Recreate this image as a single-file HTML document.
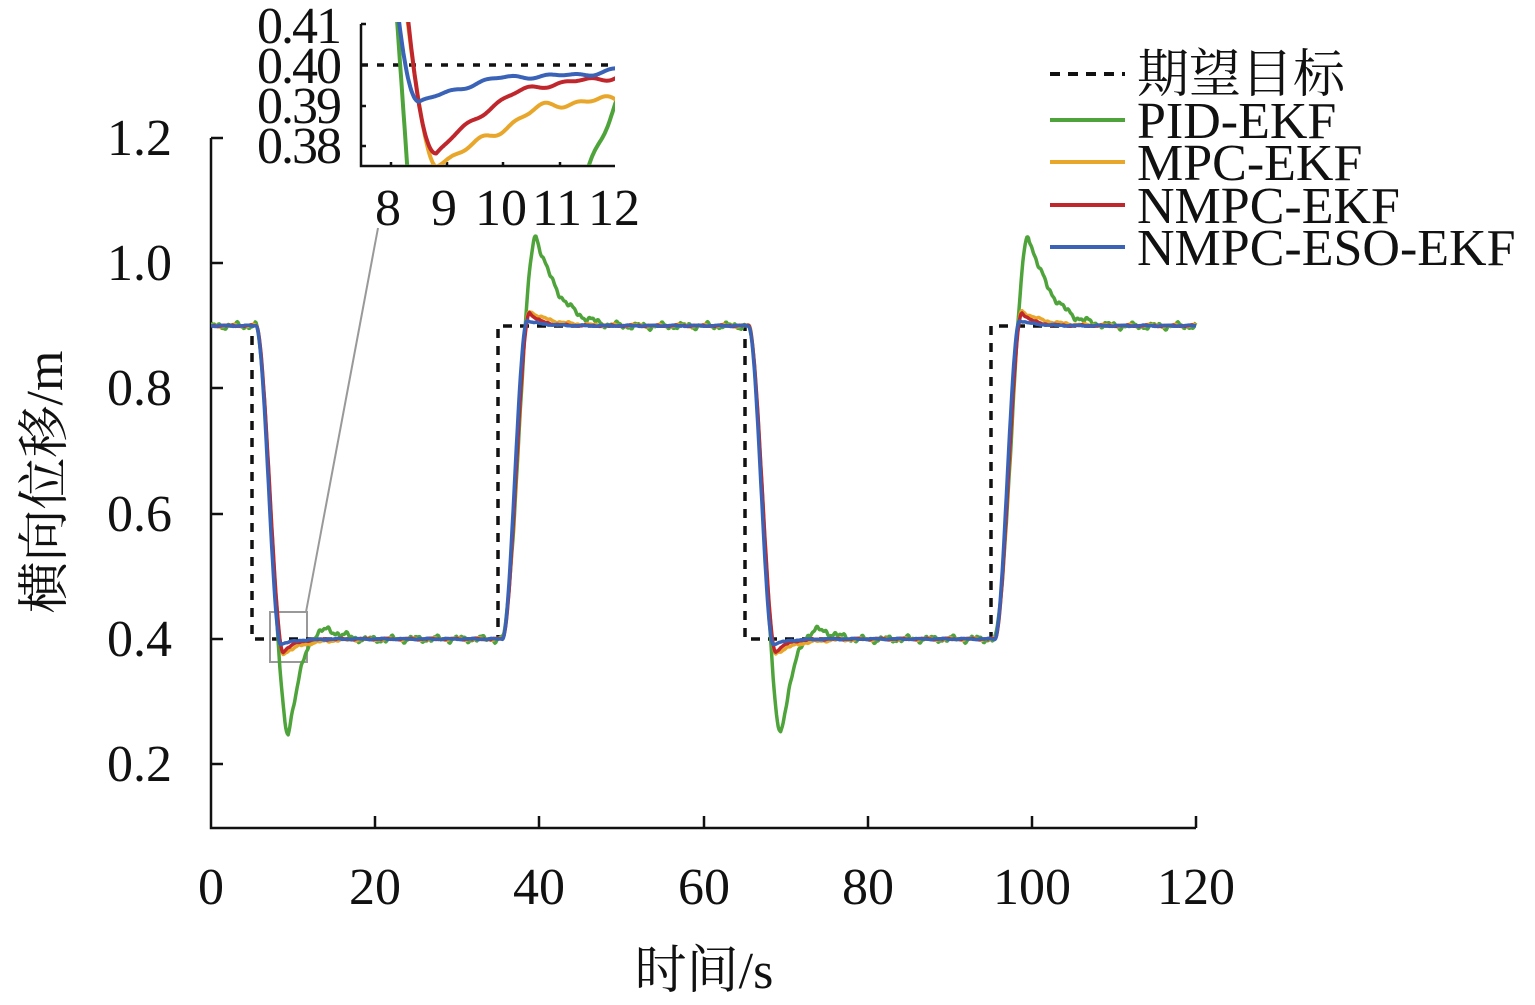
<!DOCTYPE html>
<html><head><meta charset="utf-8">
<style>
html,body{margin:0;padding:0;background:#fff;}
svg{display:block;}
text{font-family:"Liberation Serif","Noto Serif CJK SC",serif;fill:#111;}
</style></head>
<body>
<svg id="s" width="1535" height="1005" viewBox="0 0 1535 1005" xmlns="http://www.w3.org/2000/svg">
<defs>
<clipPath id="ci"><rect x="361" y="22" width="254" height="143"/></clipPath>
<clipPath id="cm"><rect x="211" y="100" width="990" height="727"/></clipPath>
</defs>
<g stroke="#111" stroke-width="2.5" fill="none">
<path d="M211,138 V828 H1196"/>
<path d="M211,138 h12 M211,263 h12 M211,388 h12 M211,514 h12 M211,639 h12 M211,764 h12"/>
<path d="M375,828 v-12 M539,828 v-12 M704,828 v-12 M868,828 v-12 M1032,828 v-12 M1196,828 v-12"/>
</g>
<g font-size="52" text-anchor="end">
<text x="172" y="155">1.2</text><text x="172" y="280">1.0</text><text x="172" y="405">0.8</text>
<text x="172" y="531">0.6</text><text x="172" y="656">0.4</text><text x="172" y="781">0.2</text>
</g>
<g font-size="52" text-anchor="middle">
<text x="211" y="904">0</text><text x="375" y="904">20</text><text x="539" y="904">40</text>
<text x="704" y="904">60</text><text x="868" y="904">80</text><text x="1032" y="904">100</text><text x="1196" y="904">120</text>
<text x="704" y="988">时间/s</text>
<text transform="translate(62,482) rotate(-90)">横向位移/m</text>
</g>
<rect x="270" y="612" width="37" height="50" fill="none" stroke="#999" stroke-width="2"/>
<line x1="306" y1="612" x2="378" y2="228" stroke="#999" stroke-width="2"/>
<g stroke="#111" stroke-width="2.5" fill="none">
<path d="M361,24 V166 H615"/>
<path d="M361,24 h5 M361,65 h5 M361,106 h5 M361,146 h5"/>
<path d="M391,166 v-4 M447,166 v-4 M503,166 v-4 M560,166 v-4"/>
</g>
<g font-size="52" text-anchor="end" letter-spacing="-2">
<text x="340" y="43">0.41</text><text x="340" y="83">0.40</text><text x="340" y="123">0.39</text><text x="340" y="163">0.38</text>
</g>
<g font-size="52" text-anchor="middle">
<text x="388" y="225">8</text><text x="444" y="225">9</text><text x="501" y="225">10</text><text x="557" y="225">11</text><text x="614" y="225">12</text>
</g>
<g id="main" clip-path="url(#cm)"></g>
<g id="ins" clip-path="url(#ci)"></g>
<g stroke-width="4">
<line x1="1050" y1="74" x2="1125" y2="74" stroke="#111" stroke-dasharray="10,8"/>
<line x1="1050" y1="120" x2="1125" y2="120" stroke="#4ea43a"/>
<line x1="1050" y1="162" x2="1125" y2="162" stroke="#e8a72a"/>
<line x1="1050" y1="205" x2="1125" y2="205" stroke="#c0272d"/>
<line x1="1050" y1="247" x2="1125" y2="247" stroke="#3a63b8"/>
</g>
<g font-size="52">
<text x="1137" y="92">期望目标</text>
<text x="1137" y="138">PID-EKF</text>
<text x="1137" y="180">MPC-EKF</text>
<text x="1137" y="223">NMPC-EKF</text>
<text x="1137" y="265">NMPC-ESO-EKF</text>
</g>
</svg>
<script>
(function(){
var NS="http://www.w3.org/2000/svg";
function ss(x){x=Math.max(0,Math.min(1,x));return x*x*(3-2*x);}
var trans=[5,35,65,95];
function noise(t,k,a){return a*(Math.sin(t*2.3+k)*0.5+Math.sin(t*5.7+2*k)*0.3+Math.sin(t*11.3+3*k)*0.2);}
function fLin(tau,te,A,T){
  if(tau<0.5) return 0;
  if(tau<te) return (1+A)*ss((tau-0.5)/(te-0.5));
  return 1+A*Math.exp(-(tau-te)/T);
}
function fPID(tau,up){
  var A=up?0.29:0.3, tp=up?4.6:4.4;
  if(tau<0.4) return 0;
  if(tau<tp) return (1+A)*ss((tau-0.4)/(tp-0.4));
  var d=tau-tp;
  if(up) return 1+A*Math.exp(-d/3.0)*Math.cos(Math.PI*d/22);
  return 1+A*Math.exp(-d/2.2)*Math.cos(Math.PI*d/6.0);
}
var series={
 green:function(t){return resp(t,function(tau,up){return fPID(tau,up);},1,0.007);},
 orange:function(t){return resp(t,function(tau){return fLin(tau,3.8,0.047,2.7);},2,0.0025);},
 red:function(t){return resp(t,function(tau){return fLin(tau,3.8,0.042,1.4);},3,0.0015);},
 blue:function(t){return resp(t,function(tau){return fLin(tau,3.5,0.017,1.8);},4,0.0012);}
};
function resp(t,f,k,na){
  var v=0.9, vals=[0.9,0.4,0.9,0.4,0.9];
  for(var i=0;i<4;i++){
    if(t>=trans[i]){var tau=t-trans[i],step=vals[i+1]-vals[i];v=vals[i]+step*f(tau,step>0);}
  }
  return v+noise(t,k,na);
}
var cols={green:"#4ea43a",orange:"#e8a72a",red:"#c0272d",blue:"#3a63b8"};
function mx(t){return 211+t*8.208;} function my(v){return 639-(v-0.4)*626.5;}
function ix(t){return 391+(t-8)*56.5;} function iy(v){return 65-(v-0.40)*4100;}
function add(g,d,c,w,dash){var p=document.createElementNS(NS,"path");p.setAttribute("d",d);p.setAttribute("fill","none");p.setAttribute("stroke",c);p.setAttribute("stroke-width",w);p.setAttribute("stroke-linejoin","round");if(dash)p.setAttribute("stroke-dasharray",dash);g.appendChild(p);}
var gm=document.getElementById("main"),gi=document.getElementById("ins");
add(gm,"M211,326 H252 V639 H498 V326 H745 V639 H991 V326 H1196","#111",3.5,"9,8");
add(gi,"M361,65 H615","#111",3.5,"7,9");
["green","orange","red","blue"].forEach(function(n){
  var d="",di="";
  for(var t=0;t<=120;t+=0.1){d+=(d?"L":"M")+mx(t).toFixed(1)+","+my(series[n](t)).toFixed(1);}
  for(var t=7.5;t<=12.1;t+=0.02){di+=(di?"L":"M")+ix(t).toFixed(1)+","+iy(series[n](t)).toFixed(1);}
  add(gm,d,cols[n],3.5);add(gi,di,cols[n],4);
});
})();
</script>
</body></html>
